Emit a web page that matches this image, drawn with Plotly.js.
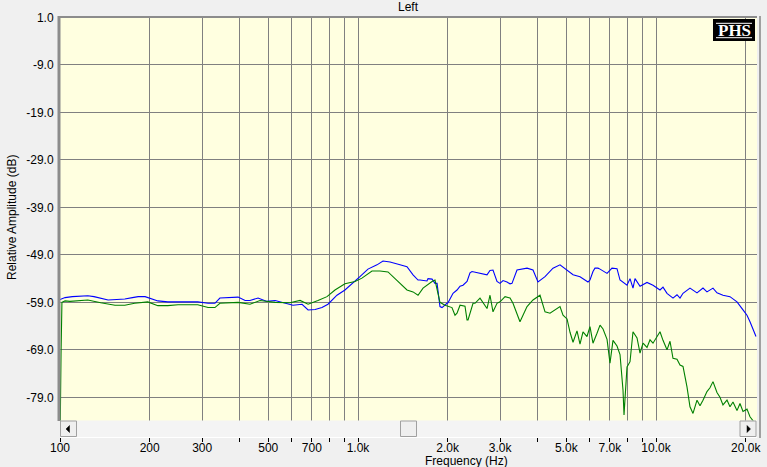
<!DOCTYPE html>
<html>
<head>
<meta charset="utf-8">
<script src="https://cdn.plot.ly/plotly-3.0.1.min.js"></script>
<style>html,body{margin:0;padding:0;background:#F0F0F0;}#chart{width:767px;height:467px;}</style>
</head>
<body>
<div id="chart"></div>
<script>
// ---- data (frequency in Hz, level in dB) ----
const freqBlue = [100,104,110,118,124,130,137,145,155,165,175,183,193,200,213,230,249,269,290,314,331,344,375,396,418,434,462,495,527,560,605,649,680,718,757,793,850,904,962,1015,1080,1158,1213,1281,1383,1460,1530,1590,1615,1704,1718,1772,1813,1842,1884,1914,1989,2004,2084,2149,2200,2251,2322,2376,2413,2567,2710,2773,2838,2927,2996,3067,3162,3237,3287,3416,3692,3866,4018,4242,4512,4763,5029,5267,5559,5913,6004,6145,6241,6388,6489,6850,7118,7399,7573,7993,8181,8372,8503,8839,9329,9771,10314,10556,10887,11404,11762,12038,12321,13004,13727,14378,14828,15533,16019,16779,17712,18697,19585,20200,20674,21159,21657];
const dbBlue = [-58.4,-58.0,-57.8,-57.7,-57.6,-57.8,-58.1,-58.5,-58.4,-58.3,-58.0,-57.8,-57.8,-58.1,-58.7,-58.9,-58.9,-58.9,-58.9,-59.2,-59.2,-58.1,-57.9,-57.9,-58.6,-58.6,-58.1,-58.8,-58.6,-59.1,-59.6,-59.4,-60.6,-60.5,-60.1,-59.4,-57.5,-56.4,-55.0,-53.6,-52.0,-51.1,-50.3,-50.5,-51.1,-51.5,-53.2,-54.3,-54.3,-54.5,-54.0,-54.1,-55.0,-55.0,-59.9,-60.1,-59.2,-59.1,-57.1,-56.4,-55.6,-55.4,-54.6,-52.8,-52.5,-52.9,-53.2,-52.3,-52.2,-54.6,-55.0,-54.4,-54.7,-55.1,-55.0,-52.2,-51.8,-52.2,-54.7,-53.6,-51.8,-51.1,-52.2,-53.2,-53.6,-54.7,-54.3,-52.5,-51.8,-51.8,-52.0,-52.9,-51.8,-51.9,-54.3,-55.4,-54.0,-56.0,-54.0,-55.6,-54.8,-55.4,-56.4,-55.8,-57.1,-58.1,-57.4,-58.1,-57.1,-56.0,-57.0,-56.0,-56.8,-56.0,-57.0,-57.5,-57.8,-58.9,-60.6,-61.7,-63.1,-64.8,-66.2];

const freqGreen = [100,100.4,100.8,101.5,104,108,115,124,137,153,165,178,197,213,230,249,269,290,314,331,344,375,396,434,469,527,591,639,680,734,787,837,904,977,1031,1114,1185,1261,1311,1383,1460,1530,1590,1653,1704,1772,1813,1842,1884,1958,2067,2116,2149,2200,2286,2322,2340,2432,2470,2567,2668,2710,2773,2838,2927,2996,3115,3162,3237,3312,3416,3496,3692,3866,4081,4242,4409,4583,4763,4875,5029,5146,5267,5431,5559,5689,5867,6004,6145,6339,6489,6641,6850,7008,7173,7399,7573,7750,7810,7993,8181,8372,8636,8839,9046,9329,9548,9771,10078,10314,10556,10887,11143,11404,11762,12038,12321,12706,13004,13310,13727,14049,14378,14828,15176,15533,16019,16395,16779,17307,17712,18128,18697,19136,19585,20200,20674,21490,21800];
const dbGreen = [-90,-71,-70,-59,-58.7,-58.8,-58.7,-58.5,-59.1,-59.6,-59.6,-59.2,-58.9,-59.7,-59.7,-59.5,-59.5,-59.5,-60.1,-60.1,-59.2,-59.0,-59.0,-59.4,-58.6,-59.0,-59.1,-58.6,-59.4,-58.6,-57.8,-56.4,-55.1,-54.6,-53.9,-52.4,-52.4,-52.6,-53.6,-55.0,-56.4,-56.8,-57.5,-56.0,-55.3,-54.6,-54.3,-56.4,-59.0,-59.6,-60.1,-61.7,-61.3,-59.6,-59.8,-62.7,-62.7,-59.2,-59.2,-58.1,-59.6,-60.3,-57.5,-61.0,-59.2,-58.9,-57.8,-57.9,-58.1,-59.2,-61.7,-63.1,-59.9,-58.5,-57.5,-61.0,-61.3,-60.5,-59.9,-61.7,-62.5,-65.3,-67.4,-65.0,-67.8,-65.2,-66.2,-64.1,-67.6,-65.5,-63.8,-64.6,-66.8,-71.8,-67.0,-68.2,-70.0,-77.5,-82.7,-72.6,-71.5,-65.2,-66.5,-69.7,-67.6,-68.5,-66.9,-67.6,-66.2,-65.2,-67.0,-69.0,-67.2,-70.8,-71.0,-72.2,-72.5,-76.8,-81.0,-82.4,-79.6,-80.8,-79.6,-77.8,-77.0,-75.7,-78.0,-79.0,-80.6,-79.6,-81.0,-80.0,-81.8,-80.3,-82.0,-81.5,-83.1,-84.5,-84.5];

const yTickVals = [1,-9,-19,-29,-39,-49,-59,-69,-79];
const yTickText = ['1.0','-9.0','-19.0','-29.0','-39.0','-49.0','-59.0','-69.0','-79.0'];
const xTickVals = [100,200,300,400,500,600,700,800,900,1000,2000,3000,4000,5000,6000,7000,8000,9000,10000,20000];
const xTickText = ['100','200','300','','500','','700','','','1.0k','2.0k','3.0k','','5.0k','','7.0k','','','10.0k','20.0k'];

const chartTitle = 'Left';
const xTitle = 'Frequency (Hz)';
const yTitle = 'Relative Amplitude (dB)';
const logoText = 'PHS';

// ---- layout helpers (pixel -> paper) ----
const L = 60, R = 757, T = 17, B = 437;
const W = R - L, H = B - T;
const px = X => (X - L) / W;
const py = Y => (B - Y) / H;
const FONT = 'Liberation Sans, Arial, sans-serif';

const traces = [
  {x: freqBlue, y: dbBlue, type: 'scatter', mode: 'lines', line: {color: '#0000FF', width: 1.1}, hoverinfo: 'skip'},
  {x: freqGreen, y: dbGreen, type: 'scatter', mode: 'lines', line: {color: '#008000', width: 1.1}, hoverinfo: 'skip'}
];

function rect(x0, y0, x1, y1, fill, lineColor, lw) {
  return {type: 'rect', xref: 'paper', yref: 'paper', x0: px(x0), x1: px(x1), y0: py(y1), y1: py(y0),
    fillcolor: fill, line: {color: lineColor || fill, width: lw === undefined ? 0 : lw}, layer: 'above'};
}
function lineSh(x0, y0, x1, y1, color, w) {
  return {type: 'line', xref: 'paper', yref: 'paper', x0: px(x0), x1: px(x1), y0: py(y0), y1: py(y1),
    line: {color: color, width: w}, layer: 'above'};
}
function tri(pts, color) {
  const p = pts.map((q, i) => (i ? 'L' : 'M') + px(q[0]) + ',' + py(q[1])).join(' ') + ' Z';
  return {type: 'path', xref: 'paper', yref: 'paper', path: p, fillcolor: color, line: {color: color, width: 0.5}, layer: 'above'};
}

const shapes = [
  // scrollbar
  rect(60, 420.5, 757, 437, '#F4F4F4'),
  rect(60.5, 421, 76.5, 436.5, '#EFEFEF', '#A0A0A0', 1),
  tri([[66, 429], [69.5, 425.5], [69.5, 432.5]], '#000000'),
  rect(740, 421, 756, 436.5, '#EFEFEF', '#A0A0A0', 1),
  tri([[750.5, 429], [747, 425.5], [747, 432.5]], '#000000'),
  rect(400.5, 421, 416.5, 436.5, '#EFEFEF', '#A0A0A0', 1),
  lineSh(60, 437.5, 757, 437.5, '#FFFFFF', 1),
  // frame
  lineSh(59, 16, 59, 421, '#8C8C8C', 3),
  lineSh(58, 17, 757, 17, '#8C8C8C', 2),
  lineSh(760, 16, 760, 438, '#A0A0A0', 2),
  // logo box
  rect(713, 19, 755, 41, '#000000'),
  lineSh(716, 23.3, 752, 23.3, '#FFFFFF', 1),
  lineSh(716, 37.7, 752, 37.7, '#FFFFFF', 1)
];

const annotations = [
  {text: chartTitle, xref: 'paper', yref: 'paper', x: px(408), y: py(7), xanchor: 'center', yanchor: 'middle', showarrow: false, font: {family: FONT, size: 12, color: '#000'}},
  {text: xTitle, xref: 'paper', yref: 'paper', x: px(466), y: py(461), xanchor: 'center', yanchor: 'middle', showarrow: false, font: {family: FONT, size: 12, color: '#000'}},
  {text: yTitle, xref: 'paper', yref: 'paper', x: px(12), y: py(218), xanchor: 'center', yanchor: 'middle', textangle: -90, showarrow: false, font: {family: FONT, size: 12, color: '#000'}},
  {text: '<b>' + logoText + '</b>', xref: 'paper', yref: 'paper', x: px(734), y: py(30.5), xanchor: 'center', yanchor: 'middle', showarrow: false, font: {family: 'Liberation Serif, Times New Roman, serif', size: 17, color: '#FFFFFF'}}
];

const layout = {
  width: 767, height: 467,
  margin: {l: L, r: 767 - R, t: T, b: 467 - B, pad: 0},
  paper_bgcolor: '#F0F0F0',
  plot_bgcolor: '#FFFFE0',
  showlegend: false,
  font: {family: FONT, size: 12, color: '#000'},
  xaxis: {
    type: 'log', range: [2, 2 + W / 298], autorange: false,
    tickmode: 'array', tickvals: xTickVals, ticktext: xTickText,
    showgrid: true, gridcolor: '#808080', gridwidth: 1,
    ticks: 'outside', ticklen: 4, tickcolor: '#000', tickwidth: 1,
    ticklabelstandoff: -4,
    zeroline: false, showline: false, fixedrange: true,
    tickfont: {family: FONT, size: 12, color: '#000'}
  },
  yaxis: {
    range: [-79 - (B - 397.3) / 4.747, 1 + (17.5 - T) / 4.747], autorange: false,
    tickmode: 'array', tickvals: yTickVals, ticktext: yTickText,
    showgrid: true, gridcolor: '#808080', gridwidth: 1,
    ticks: 'outside', ticklen: 3, tickcolor: 'rgba(0,0,0,0)',
    zeroline: false, showline: false, fixedrange: true,
    tickfont: {family: FONT, size: 12, color: '#000'}
  },
  shapes: shapes,
  annotations: annotations
};

Plotly.newPlot('chart', traces, layout, {displayModeBar: false, staticPlot: true});
</script>
</body>
</html>
